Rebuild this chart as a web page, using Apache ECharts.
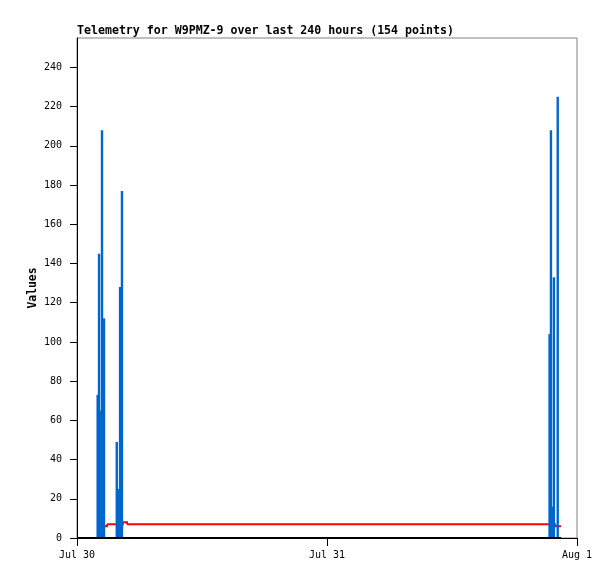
<!DOCTYPE html>
<html>
<head>
<meta charset="utf-8">
<script src="https://cdn.jsdelivr.net/npm/echarts@6/dist/echarts.min.js"></script>
<style>
html,body{margin:0;padding:0;background:#fff;}
#c{width:615px;height:579px;}
</style>
</head>
<body>
<div id="c"></div>
<script>
// Blue telemetry bars (UTC timestamps, values)
const barTimes = [
  '2024-07-30T01:59:00Z','2024-07-30T02:07:00Z','2024-07-30T02:16:30Z','2024-07-30T02:24:00Z','2024-07-30T02:35:30Z',
  '2024-07-30T03:49:00Z','2024-07-30T03:58:00Z','2024-07-30T04:08:00Z','2024-07-30T04:19:00Z',
  '2024-07-31T21:22:00Z','2024-07-31T21:30:00Z','2024-07-31T21:39:00Z','2024-07-31T21:47:00Z','2024-07-31T22:09:00Z'
];
const barValues = [73, 145, 65, 208, 112, 49, 25, 128, 177, 104, 208, 16, 133, 225];

// Red channel (value held until the next reading)
const redTimes = ['2024-07-30T02:41:00Z','2024-07-30T02:53:00Z','2024-07-30T04:24:00Z','2024-07-30T04:48:00Z','2024-07-31T21:53:00Z','2024-07-31T22:28:00Z'];
const redValues = [6, 7, 8, 7, 6, 6];

// Black zero channel
const blackTimes = ['2024-07-30T00:00:00Z','2024-07-31T22:28:00Z'];
const blackValues = [0, 0];

// Axis ticks
const xTickTimes = ['2024-07-30T00:00:00Z','2024-07-31T00:00:00Z','2024-08-01T00:00:00Z'];
const xTickLabels = ['Jul 30','Jul 31','Aug 1'];
const yTicks = [0,20,40,60,80,100,120,140,160,180,200,220,240];

const titleText = 'Telemetry for W9PMZ-9 over last 240 hours (154 points)';

const toMs = s => Date.parse(s);
const xTicksMs = xTickTimes.map(toMs);
const DAY = 86400000;

// step segments: [t_i, v_i, t_{i+1}, v_{i+1}]
const redSegments = redTimes.slice(0, -1).map((t, i) => [toMs(t), redValues[i], toMs(redTimes[i + 1]), redValues[i + 1]]);

const chart = echarts.init(document.getElementById('c'), null, {renderer:'canvas'});
const mono = 'DejaVu Sans Mono';
chart.setOption({
  animation: false,
  backgroundColor: '#ffffff',
  title: {
    text: titleText,
    left: 77, top: 25, padding: 0,
    textStyle: {fontFamily: mono, fontSize: 11.6, fontWeight: 'bold', color: '#000'}
  },
  grid: {left: 77, right: 38, top: 38, bottom: 41, show: true, borderColor: '#808080', borderWidth: 1, backgroundColor: 'transparent'},
  xAxis: {
    type: 'value',
    min: xTicksMs[0], max: xTicksMs[2], interval: DAY,
    axisLine: {show: true, lineStyle: {color: '#000', width: 1}},
    axisTick: {show: true, length: 8, inside: false, lineStyle: {color: '#000'}},
    splitLine: {show: false},
    axisLabel: {
      fontFamily: mono, fontSize: 10, color: '#000', margin: 12,
      formatter: v => { const i = xTicksMs.indexOf(v); return i >= 0 ? xTickLabels[i] : ''; }
    }
  },
  yAxis: {
    type: 'value',
    min: 0, max: 255,
    name: 'Values', nameLocation: 'middle', nameGap: 38, nameMoveOverlap: false,
    nameTextStyle: {fontFamily: mono, fontSize: 11.4, fontWeight: 'bold', color: '#000'},
    axisLine: {show: true, lineStyle: {color: '#000', width: 1}},
    axisTick: {show: true, length: 7, customValues: yTicks, lineStyle: {color: '#000'}},
    splitLine: {show: false},
    axisLabel: {fontFamily: mono, fontSize: 10, color: '#000', margin: 15, customValues: yTicks}
  },
  series: [
    {
      type: 'custom', name: 'red', z: 1,
      data: redSegments,
      encode: {x: [0, 2], y: [1, 3]},
      renderItem: function (params, api) {
        const p0 = api.coord([api.value(0), api.value(1)]);
        const p1 = api.coord([api.value(2), api.value(1)]);
        const p2 = api.coord([api.value(2), api.value(3)]);
        return {
          type: 'polyline',
          shape: {points: [p0, p1, p2]},
          style: {stroke: '#ff0000', lineWidth: 2, fill: null, lineJoin: 'miter'}
        };
      }
    },
    {
      type: 'bar', name: 'blue', z: 2,
      data: barTimes.map((t, i) => [toMs(t), barValues[i]]),
      barWidth: 2.4, barGap: '-100%',
      itemStyle: {color: '#0066cc'}
    },
    {
      type: 'line', name: 'black', z: 3,
      data: blackTimes.map((t, i) => [toMs(t), blackValues[i]]),
      showSymbol: false, symbol: 'none',
      lineStyle: {color: '#000', width: 2}
    }
  ]
});
</script>
</body>
</html>
